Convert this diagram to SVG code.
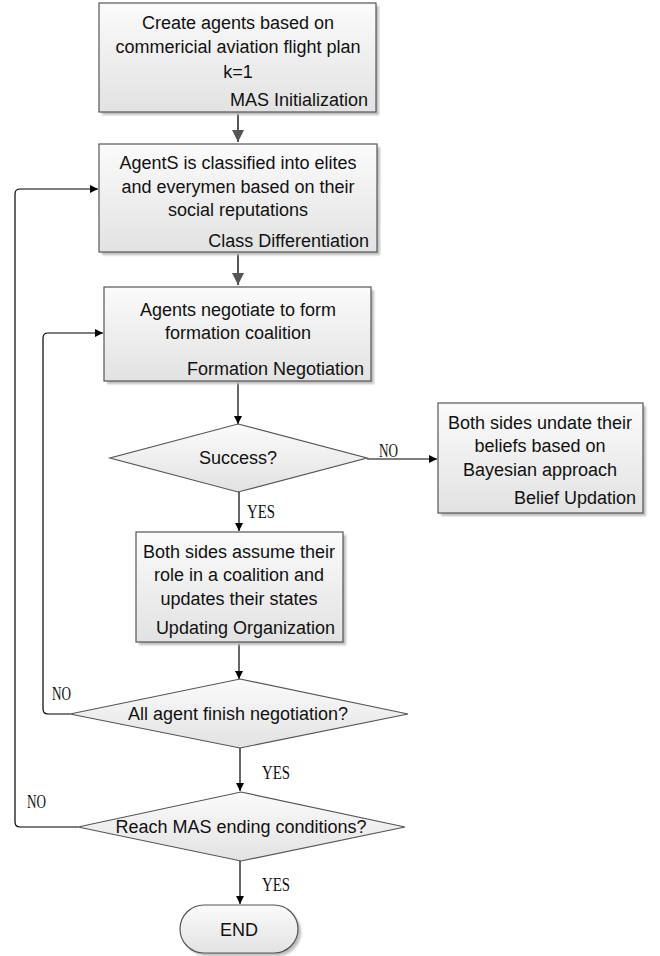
<svg xmlns="http://www.w3.org/2000/svg" width="660" height="956" viewBox="0 0 660 956">
<defs>
<linearGradient id="g" x1="0" y1="0" x2="0" y2="1">
<stop offset="0" stop-color="#fbfbfb"/>
<stop offset="1" stop-color="#e2e2e2"/>
</linearGradient>
<filter id="sh" x="-10%" y="-10%" width="130%" height="130%">
<feGaussianBlur stdDeviation="1.2"/>
</filter>
<marker id="ah" markerWidth="10" markerHeight="10" refX="8" refY="4" orient="auto" markerUnits="userSpaceOnUse">
<path d="M0,0 L8,4 L0,8 Z" fill="#000"/>
</marker>
<marker id="ahg" markerWidth="14" markerHeight="14" refX="12" refY="6" orient="auto" markerUnits="userSpaceOnUse">
<path d="M0,0 L12,6 L0,12 Z" fill="#555"/>
</marker>
</defs>
<style>
.box{fill:url(#g);stroke:#555;stroke-width:1.2}
.shd{fill:#bdbdbd;filter:url(#sh)}
.t{font-family:"Liberation Sans",Arial,sans-serif;font-size:18px;fill:#111;text-anchor:middle}
.r{text-anchor:end}
.lab{font-family:"Liberation Serif","Times New Roman",serif;font-size:19px;fill:#111}
.c{fill:none;stroke:#000;stroke-width:1.2}
.cg{fill:none;stroke:#555;stroke-width:2}
</style>
<rect width="660" height="956" fill="#fff"/>

<g id="connectors">
<path class="cg" d="M238,112 V142" marker-end="url(#ahg)"/>
<path class="cg" d="M238,252 V285" marker-end="url(#ahg)"/>
<path class="c" d="M238,381 V424" marker-end="url(#ah)"/>
<path class="c" d="M367,459 H437" marker-end="url(#ah)"/>
<path class="c" d="M239,492 V531" marker-end="url(#ah)"/>
<path class="c" d="M239,642 V679" marker-end="url(#ah)"/>
<path class="c" d="M240,748 V791" marker-end="url(#ah)"/>
<path class="c" d="M240,861 V904" marker-end="url(#ah)"/>
<path class="c" d="M70,714 H48 Q43,714 43,709 V338 Q43,333 48,333 H103" marker-end="url(#ah)"/>
<path class="c" d="M78,827 H20 Q15,827 15,822 V194 Q15,189 20,189 H98" marker-end="url(#ah)"/>
<text class="lab" x="379" y="457" textLength="19" lengthAdjust="spacingAndGlyphs">NO</text>
<text class="lab" x="247" y="518" textLength="28" lengthAdjust="spacingAndGlyphs">YES</text>
<text class="lab" x="52" y="700" textLength="19" lengthAdjust="spacingAndGlyphs">NO</text>
<text class="lab" x="262" y="779" textLength="28" lengthAdjust="spacingAndGlyphs">YES</text>
<text class="lab" x="27" y="808" textLength="19" lengthAdjust="spacingAndGlyphs">NO</text>
<text class="lab" x="262" y="891" textLength="28" lengthAdjust="spacingAndGlyphs">YES</text>
</g>

<g id="mas-init">
<rect class="shd" x="102" y="6" width="277" height="109"/>
<rect class="box" x="99" y="3" width="277" height="109"/>
<text class="t" x="238" y="29">Create agents based on</text>
<text class="t" x="238" y="53">commericial aviation flight plan</text>
<text class="t" x="238" y="78">k=1</text>
<text class="t r" x="368" y="106">MAS Initialization</text>
</g>

<g id="class-diff">
<rect class="shd" x="102" y="147" width="278" height="108"/>
<rect class="box" x="99" y="144" width="278" height="108"/>
<text class="t" x="238" y="169">AgentS is classified into elites</text>
<text class="t" x="238" y="193">and everymen based on their</text>
<text class="t" x="238" y="216">social reputations</text>
<text class="t r" x="369" y="247">Class Differentiation</text>
</g>

<g id="formation-neg">
<rect class="shd" x="107" y="290" width="267" height="94"/>
<rect class="box" x="104" y="287" width="267" height="94"/>
<text class="t" x="238" y="316">Agents negotiate to form</text>
<text class="t" x="238" y="339">formation coalition</text>
<text class="t r" x="364" y="375">Formation Negotiation</text>
</g>

<g id="success">
<polygon class="box" points="238,424 367,458 238,492 110,458"/>
<text class="t" x="238" y="464">Success?</text>
</g>

<g id="belief-upd">
<rect class="shd" x="441" y="406" width="205" height="110"/>
<rect class="box" x="438" y="403" width="205" height="110"/>
<text class="t" x="540" y="429">Both sides undate their</text>
<text class="t" x="540" y="452">beliefs based on</text>
<text class="t" x="540" y="476">Bayesian approach</text>
<text class="t r" x="636" y="504">Belief Updation</text>
</g>

<g id="updating-org">
<rect class="shd" x="139" y="535" width="207" height="110"/>
<rect class="box" x="136" y="532" width="207" height="110"/>
<text class="t" x="239" y="558">Both sides assume their</text>
<text class="t" x="239" y="581">role in a coalition and</text>
<text class="t" x="239" y="605">updates their states</text>
<text class="t r" x="335" y="634">Updating Organization</text>
</g>

<g id="all-finish">
<polygon class="box" points="240,679 408,714 240,748 70,714"/>
<text class="t" x="238" y="720">All agent finish negotiation?</text>
</g>

<g id="mas-end">
<polygon class="box" points="241,792 405,827 241,861 78,827"/>
<text class="t" x="241" y="833">Reach MAS ending conditions?</text>
</g>

<g id="end">
<rect class="shd" x="183" y="908" width="118" height="48" rx="24"/>
<rect class="box" x="180" y="905" width="118" height="48" rx="24"/>
<text class="t" x="239" y="936">END</text>
</g>
</svg>
